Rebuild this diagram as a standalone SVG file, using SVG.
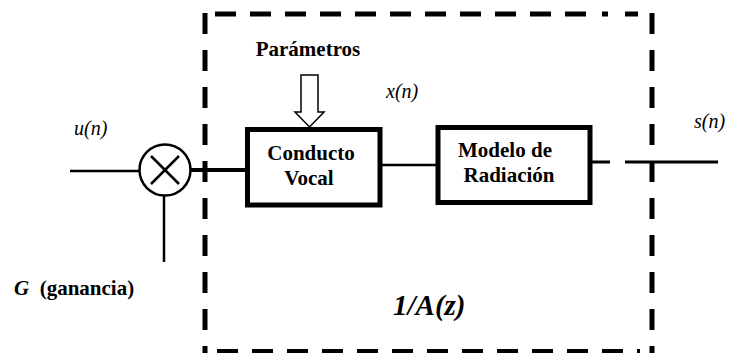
<svg xmlns="http://www.w3.org/2000/svg" width="732" height="353" viewBox="0 0 732 353">
<style>
text{font-family:'Liberation Serif','Tinos','Times New Roman','DejaVu Serif',serif;fill:#000}
.b{font-weight:bold;font-size:21px}
.i{font-style:italic;font-size:20px}
.dash{fill:none;stroke:#000;stroke-width:5}
.box{fill:#fff;stroke:#000;stroke-width:5}
.w{fill:none;stroke:#000}
</style>
<rect width="732" height="353" fill="#fff"/>
<g id="system">
<line class="dash" x1="205" y1="13" x2="205" y2="353" stroke-dasharray="21 16"/>
<line class="dash" x1="652" y1="13" x2="652" y2="353" stroke-dasharray="21 16"/>
<line class="dash" x1="215" y1="14" x2="590" y2="14" stroke-dasharray="21 14"/>
<line class="dash" x1="602" y1="14" x2="608" y2="14"/>
<line class="dash" x1="625" y1="14" x2="638" y2="14"/>
<line class="dash" x1="217" y1="351.5" x2="640" y2="351.5" stroke-dasharray="21 14"/>
<text x="393" y="315" font-size="29" font-weight="bold" font-style="italic">1/A(z)</text>
</g>
<g id="connectors">
<line class="w" stroke-width="2.5" x1="70" y1="171" x2="139" y2="171"/>
<line class="w" stroke-width="4" x1="191" y1="170" x2="246" y2="170"/>
<line class="w" stroke-width="2.5" x1="164" y1="196" x2="164" y2="262"/>
<line class="w" stroke-width="2.5" x1="382" y1="165" x2="436" y2="165"/>
<line class="w" stroke-width="3" x1="592" y1="162" x2="610" y2="162"/>
<line class="w" stroke-width="3" x1="625" y1="162" x2="718" y2="162"/>
</g>
<g id="multiplier">
<circle cx="165" cy="170" r="25.5" fill="#fff" stroke="#000" stroke-width="2.5"/>
<line class="w" stroke-width="2.5" x1="151" y1="156" x2="179" y2="184"/>
<line class="w" stroke-width="2.5" x1="179" y1="156" x2="151" y2="184"/>
</g>
<g id="parametros">
<text class="b" x="308" y="56" text-anchor="middle">Parámetros</text>
<path d="M301,75 H318 V112 H324 L309.5,127 L295,112 H301 Z" fill="#fff" stroke="#000" stroke-width="1.5"/>
</g>
<g id="conducto">
<rect class="box" x="247.5" y="129.5" width="132.5" height="75.5"/>
<text class="b" x="311" y="160" text-anchor="middle">Conducto</text>
<text class="b" x="309" y="185" text-anchor="middle">Vocal</text>
</g>
<g id="radiacion">
<rect class="box" x="438" y="127.5" width="152" height="75"/>
<text class="b" x="505" y="157" text-anchor="middle">Modelo de</text>
<text class="b" x="509" y="182" text-anchor="middle">Radiación</text>
</g>
<g id="labels">
<text class="i" x="74" y="135">u(n)</text>
<text class="i" x="386" y="98">x(n)</text>
<text class="i" x="694" y="128">s(n)</text>
<text class="b" x="14" y="295" xml:space="preserve"><tspan font-style="italic">G</tspan>  (ganancia)</text>
</g>
</svg>
